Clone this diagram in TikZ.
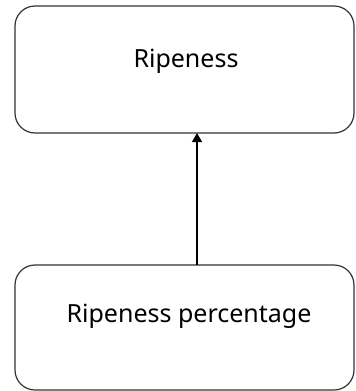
\documentclass[tikz,border=0pt]{standalone}
\usepackage{fontspec}
\setmainfont{Noto Sans}
\usetikzlibrary{arrows.meta}
\begin{document}
\begin{tikzpicture}[x=1pt,y=-1pt,
  box/.style={draw=black!80, line width=1.2pt, rounded corners=20pt},
  label/.style={font=\fontsize{25}{30}\selectfont, text=black, anchor=base, inner sep=0pt},
  link/.style={line width=1.3pt, -{Triangle[length=9pt,width=10pt]}}]
\useasboundingbox (0,0) rectangle (356,391);
% boxes
\draw[box] (15,6) rectangle (354,133);
\draw[box] (15,265) rectangle (354,390);
\node[label] (top) at (186,67) {Ripeness};
\node[label] (bottom) at (189,322) {Ripeness percentage};
\coordinate (ttop) at (197,133);
\coordinate (bbot) at (197,265);
\draw[link] (bbot) -- (ttop);
\end{tikzpicture}
\end{document}
